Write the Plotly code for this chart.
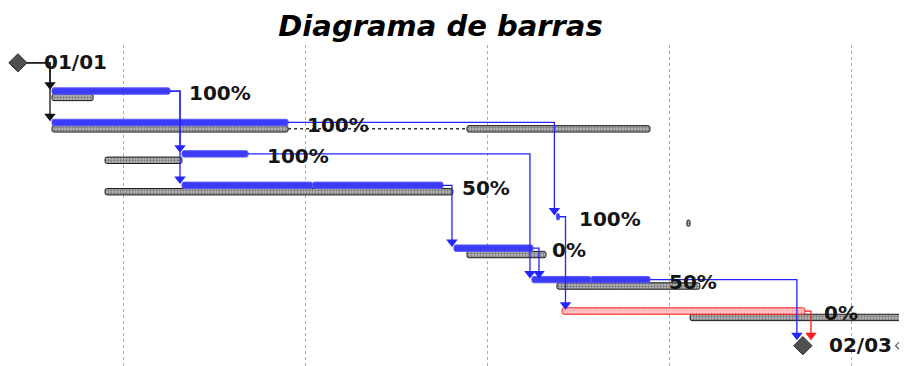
import plotly.graph_objects as go

# tasks (rows 1-8), x in days from project start
task_rows = [1, 2, 3, 4, 5, 6, 7, 8]
actual_start = [0.0, 0.0, 5.0, 5.0, 19.4, 15.46, 18.46, 19.62]
actual_end = [4.54, 9.08, 7.54, 15.04, 19.52, 18.5, 23.0, 28.96]
baseline_start = [0.0, 0.0, 2.04, 2.04, 24.42, 15.96, 19.42, 24.54]
baseline_end = [1.58, 9.08, 5.0, 15.42, 24.54, 19.0, 24.92, 32.8]
percent = [100, 100, 100, 50, 100, 0, 50, 0]
critical = [False, False, False, False, False, False, False, True]

# task 2 baseline is split: resumed piece
split_row = 2
split_base_start = 15.96
split_base_end = 23.0

# milestones
milestone_rows = [0, 9]
milestone_x = [-1.31, 28.88]
milestone_labels = ["01/01", "02/03"]
end_baseline_x = 32.87

# dependencies (pred row, succ row)
links = [(0, 1), (0, 2), (1, 3), (1, 4), (2, 5), (3, 7), (4, 6), (6, 7), (5, 8), (7, 9), (8, 9)]

week_lines = [2.75, 9.75, 16.75, 23.75, 30.75]

PX = 1 / 26.0      # days per pixel
PY = 1 / 31.43     # rows per pixel
BAR_H = 6.4 * PY
W, H = 899, 358    # page adds an 8px body margin

BLUE = "#3c3cf8"
BLUE_EDGE = "#5a5aff"
LINK_BLUE = "#2424ff"
RED = "#ff1a1a"

nodes = {}
for i, r in enumerate(task_rows):
    nodes[r] = dict(start=actual_start[i], end=actual_end[i], ms=False, crit=critical[i])
for r, x in zip(milestone_rows, milestone_x):
    nodes[r] = dict(start=x, end=x, ms=True, crit=False)

fig = go.Figure()

# baseline bars
b_y, b_base, b_len = [], [], []
for i, r in enumerate(task_rows):
    b_y.append(r + 3.2 * PY)
    b_base.append(baseline_start[i])
    b_len.append(baseline_end[i] - baseline_start[i])
b_y.append(split_row + 3.2 * PY)
b_base.append(split_base_start)
b_len.append(split_base_end - split_base_start)

fig.add_trace(go.Bar(
    y=b_y, x=b_len, base=b_base, orientation="h", width=BAR_H,
    marker=dict(color="#a8a8a8", cornerradius=2,
                line=dict(color="#1a1a1a", width=1),
                pattern=dict(shape=".", size=3, solidity=0.45, fgcolor="#3a3a3a", bgcolor="#b8b8b8")),
    hoverinfo="skip"))

# dotted line between split baseline pieces
i2 = task_rows.index(split_row)
fig.add_trace(go.Scatter(
    x=[baseline_end[i2], split_base_start], y=[split_row + 3.2 * PY] * 2,
    mode="lines", line=dict(color="#303030", width=1.5, dash="dot"), hoverinfo="skip"))

# actual bars (blue, split at progress), critical in red
a_y, a_base, a_len = [], [], []
c_y, c_base, c_len = [], [], []
for i, r in enumerate(task_rows):
    s, e = actual_start[i], actual_end[i]
    y = r - 3.2 * PY
    if critical[i]:
        c_y.append(y); c_base.append(s); c_len.append(e - s)
    elif 0 < percent[i] < 100:
        m = s + (e - s) * percent[i] / 100.0
        a_y += [y, y]; a_base += [s, m]; a_len += [m - s, e - m]
    else:
        a_y.append(y); a_base.append(s); a_len.append(e - s)

fig.add_trace(go.Bar(
    y=a_y, x=a_len, base=a_base, orientation="h", width=BAR_H,
    marker=dict(color=BLUE, cornerradius=2, line=dict(color=BLUE_EDGE, width=1)),
    hoverinfo="skip"))
fig.add_trace(go.Bar(
    y=c_y, x=c_len, base=c_base, orientation="h", width=BAR_H,
    marker=dict(color="#ffb4b4", cornerradius=2, line=dict(color=RED, width=1),
                pattern=dict(shape=".", size=3, solidity=0.3, fgcolor="#ff7070", bgcolor="#ffc8c8")),
    hoverinfo="skip"))

# links
for p, s in links:
    a, b = nodes[p], nodes[s]
    x0 = a["end"]
    y0 = p if a["ms"] else p - 3.2 * PY
    if b["ms"]:
        vx = max(b["start"] - 6 * PX, x0 + 6 * PX)
        tip = s - 7.5 * PY
    else:
        vx = max(b["start"] - 2 * PX, x0 + 6 * PX)
        tip = s - 6.4 * PY
    if a["ms"]:
        col = "#111111"
    elif a["crit"]:
        col = RED
    else:
        col = LINK_BLUE
    fig.add_trace(go.Scatter(
        x=[x0, vx, vx], y=[y0, y0, tip - 2 * PY], mode="lines",
        line=dict(color=col, width=1.3), hoverinfo="skip"))
    fig.add_trace(go.Scatter(
        x=[vx], y=[tip - 3 * PY], mode="markers",
        marker=dict(symbol="triangle-down", size=10, color=col, line=dict(width=0)),
        hoverinfo="skip"))

# milestones
fig.add_trace(go.Scatter(
    x=milestone_x, y=milestone_rows, mode="markers",
    marker=dict(symbol="diamond", size=14, color="#4f4f4f", line=dict(color="#2a2a2a", width=1)),
    hoverinfo="skip"))
fig.add_trace(go.Scatter(
    x=[end_baseline_x], y=[milestone_rows[1]], mode="markers", cliponaxis=False,
    marker=dict(symbol="diamond-open", size=17, color="#555555", line=dict(width=1.2)),
    hoverinfo="skip"))

label_font = dict(family="DejaVu Sans", size=20, color="#141414")
for i, r in enumerate(task_rows):
    fig.add_annotation(x=actual_end[i] + 17 * PX, y=r - 1 * PY, text="<b>%d%%</b>" % percent[i],
                       showarrow=False, xanchor="left", yanchor="middle", font=label_font)
for r, x, t in zip(milestone_rows, milestone_x, milestone_labels):
    fig.add_annotation(x=x + 24 * PX, y=r - 1 * PY, text="<b>%s</b>" % t,
                       showarrow=False, xanchor="left", yanchor="middle", font=label_font)

fig.update_layout(
    width=W, height=H,
    margin=dict(l=0, r=0, t=37, b=0),
    paper_bgcolor="white", plot_bgcolor="white",
    showlegend=False, barmode="overlay",
    title=dict(text="<b><i>Diagrama de barras</i></b>", x=432.5 / W, xanchor="center",
               y=1 - 18 / H, yanchor="middle", yref="container",
               font=dict(family="DejaVu Sans", size=29, color="black")),
    xaxis=dict(range=[-44 * PX, (W - 44) * PX], tickvals=week_lines, showticklabels=False,
               showgrid=True, gridcolor="#a8a8a8", griddash="dot", gridwidth=1,
               zeroline=False, showline=False, ticks=""),
    yaxis=dict(range=[(H - 54.8) * PY, (37 - 54.8) * PY], showgrid=False,
               showticklabels=False, zeroline=False, ticks=""),
)

fig.write_html("out.html")
